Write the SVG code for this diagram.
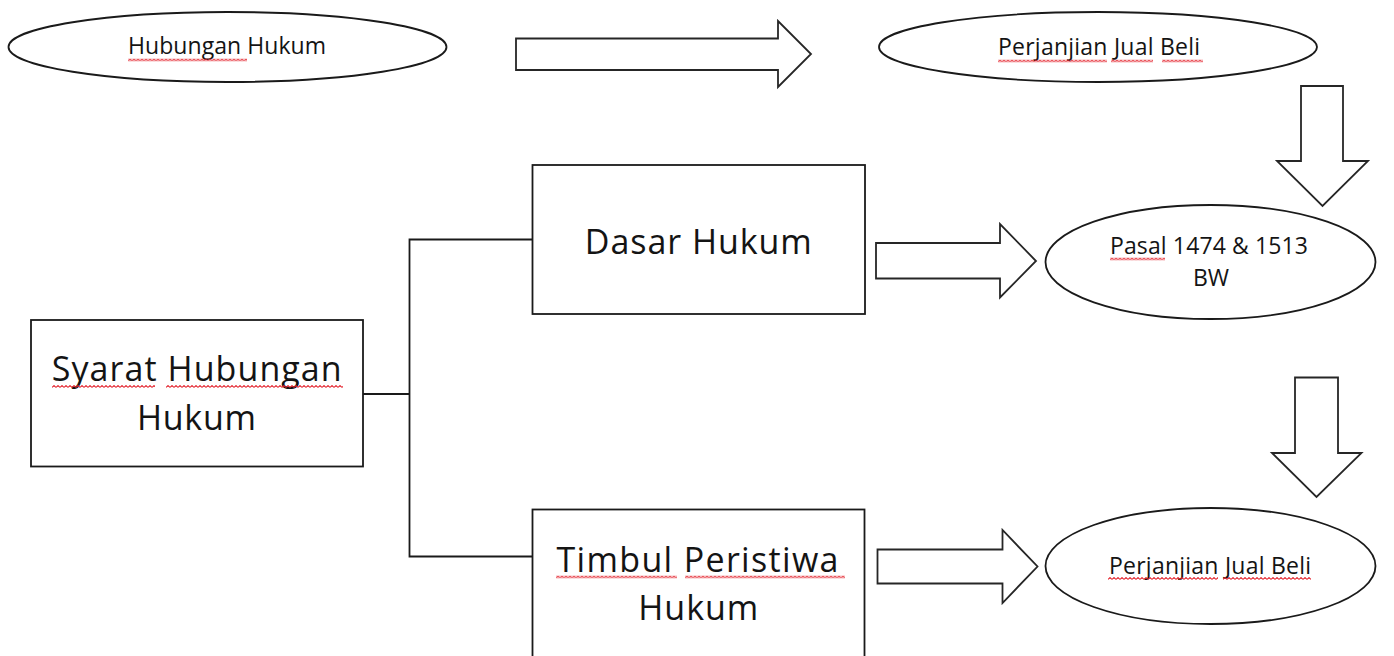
<svg xmlns="http://www.w3.org/2000/svg" width="1394" height="656" viewBox="0 0 1394 656">
  <defs>
    <style>
      .shape { fill: #ffffff; stroke: #1a1a1a; stroke-width: 1.8; }
      .arrow { fill: #ffffff; stroke: #262626; stroke-width: 1.8; stroke-linejoin: miter; }
      .link { fill: none; stroke: #1a1a1a; stroke-width: 1.8; }
      .small { font-family: "Open Sans", "Noto Sans", "Liberation Sans", sans-serif; font-size: 23px; fill: #141414; text-anchor: middle; }
      .big { font-family: "Open Sans", "Noto Sans", "Liberation Sans", sans-serif; font-size: 34px; fill: #141414; text-anchor: middle; }
      .squiggle { fill: url(#wave); }
    </style>
    <!-- red wavy spell-check underline -->
    <pattern id="wave" width="4" height="3" patternUnits="userSpaceOnUse">
      <path d="M0,2.4 L2,0.6 L4,2.4" fill="none" stroke="#e3202a" stroke-width="1.1"/>
    </pattern>
  </defs>

  <rect width="1394" height="656" fill="#ffffff"/>

  <!-- connectors: bracket from Syarat Hubungan Hukum to both branches -->
  <g id="connectors">
    <path class="link" d="M363,394 H409.5"/>
    <path class="link" d="M532,239.5 H409.5 V556.5 H532"/>
  </g>

  <!-- block arrows -->
  <g id="arrows">
    <path class="arrow" d="M516,38.5 H778 V21 L811,54 L778,87 V70 H516 Z"/>
    <path class="arrow" d="M1301,86 H1343 V161 H1368 L1322.5,206 L1277,161 H1301 Z"/>
    <path class="arrow" d="M876,243 H1000 V224 L1036,261 L1000,297.5 V278.5 H876 Z"/>
    <path class="arrow" d="M877.5,549.5 H1002.5 V530 L1037.5,566.5 L1002.5,603 V583.5 H877.5 Z"/>
    <path class="arrow" d="M1295,377.5 H1338 V453 H1361.5 L1316.5,497 L1272,453 H1295 Z"/>
  </g>

  <g id="hubungan-hukum">
    <ellipse class="shape" cx="227.5" cy="47" rx="219" ry="35"/>
    <text class="small" x="227" y="54" textLength="198" lengthAdjust="spacing">Hubungan Hukum</text>
    <rect class="squiggle" transform="translate(128,58.5)" width="119" height="3"/>
  </g>

  <g id="perjanjian-jual-beli-top">
    <ellipse class="shape" cx="1098" cy="47" rx="219" ry="35"/>
    <text class="small" x="1099" y="55" textLength="202" lengthAdjust="spacing">Perjanjian Jual Beli</text>
    <rect class="squiggle" transform="translate(998,59.5)" width="109" height="3"/>
    <rect class="squiggle" transform="translate(1111,59.5)" width="42" height="3"/>
    <rect class="squiggle" transform="translate(1162,59.5)" width="41" height="3"/>
  </g>

  <g id="pasal">
    <ellipse class="shape" cx="1210.5" cy="262" rx="165" ry="57"/>
    <text class="small" x="1209" y="254" textLength="198" lengthAdjust="spacing">Pasal 1474 &amp; 1513</text>
    <text class="small" x="1211" y="286" textLength="36" lengthAdjust="spacing">BW</text>
    <rect class="squiggle" transform="translate(1110,257.5)" width="55" height="3"/>
  </g>

  <g id="perjanjian-jual-beli-bottom">
    <ellipse class="shape" cx="1210.5" cy="566" rx="165" ry="58"/>
    <text class="small" x="1210" y="574" textLength="202" lengthAdjust="spacing">Perjanjian Jual Beli</text>
    <rect class="squiggle" transform="translate(1108,577)" width="110" height="3"/>
    <rect class="squiggle" transform="translate(1223,577)" width="88" height="3"/>
  </g>

  <g id="syarat-hubungan-hukum">
    <rect class="shape" x="31" y="320" width="332" height="146.5"/>
    <text class="big" x="196.7" y="381" textLength="290" lengthAdjust="spacing">Syarat Hubungan</text>
    <text class="big" x="196.5" y="430" textLength="119" lengthAdjust="spacing">Hukum</text>
    <rect class="squiggle" transform="translate(52,385)" width="103" height="3"/>
    <rect class="squiggle" transform="translate(166,385)" width="177" height="3"/>
  </g>

  <g id="dasar-hukum">
    <rect class="shape" x="532.5" y="165" width="332.5" height="149"/>
    <text class="big" x="698.3" y="254" textLength="227" lengthAdjust="spacing">Dasar Hukum</text>
  </g>

  <g id="timbul-peristiwa-hukum">
    <rect class="shape" x="532.5" y="509.5" width="332" height="160"/>
    <text class="big" x="697.5" y="572" textLength="282" lengthAdjust="spacing">Timbul Peristiwa</text>
    <text class="big" x="698.3" y="620" textLength="120" lengthAdjust="spacing">Hukum</text>
    <rect class="squiggle" transform="translate(556,575.5)" width="121" height="3"/>
    <rect class="squiggle" transform="translate(685,575.5)" width="160" height="3"/>
  </g>
</svg>
